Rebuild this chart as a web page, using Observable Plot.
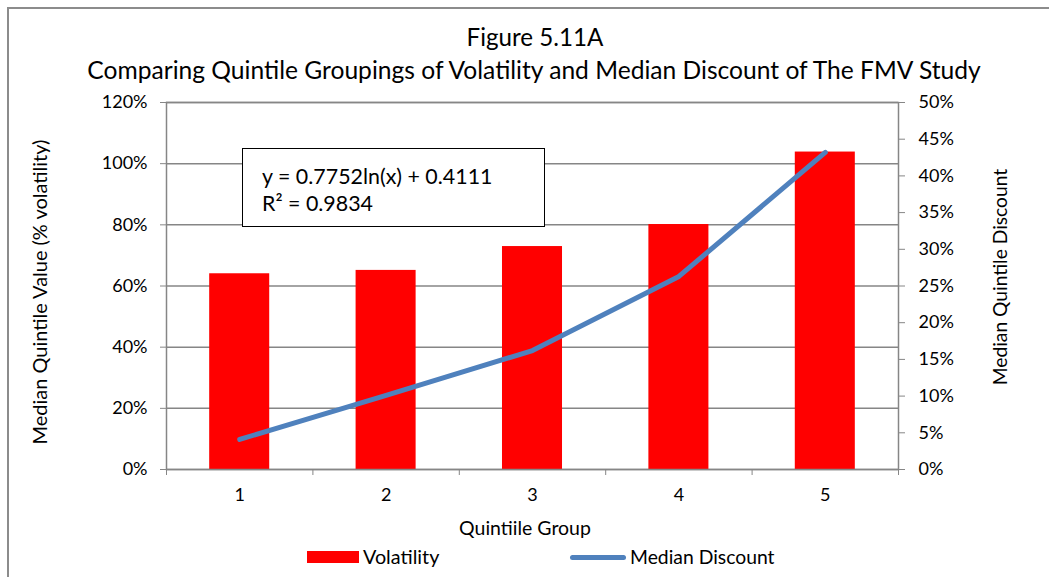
<!DOCTYPE html>
<html><head><meta charset="utf-8">
<script src="https://cdn.jsdelivr.net/npm/d3@7"></script>
<script src="https://cdn.jsdelivr.net/npm/@observablehq/plot@0.6"></script>
<style>
body{margin:0;background:#fff;font-family:Lato, sans-serif;}
#wrap{position:relative;width:1049px;height:577px;overflow:hidden;background:#fff;}
#border{position:absolute;left:7px;top:7px;width:1100px;height:700px;border:2px solid #8c8c8c;box-sizing:border-box;}
.t{position:absolute;white-space:nowrap;color:#000;line-height:1;font-family:Lato, sans-serif;}
#eq{position:absolute;left:242px;top:148px;width:303px;height:79px;border:1.5px solid #000;background:#fff;box-sizing:border-box;}
</style></head><body>
<div id="wrap"><div id="border"></div><div id="chart" style="position:absolute;left:0;top:0"></div></div>
<script>
// ---- data ----
const groups = [1, 2, 3, 4, 5];
const volatility = [64.0, 65.1, 72.9, 80.1, 103.8];        // % (left axis)
const medianDiscount = [4.1, 10.1, 16.2, 26.3, 43.2];      // % (right axis)
const leftTicks = [0, 20, 40, 60, 80, 100, 120];
const rightTicks = [0, 5, 10, 15, 20, 25, 30, 35, 40, 45, 50];
const titleText = "Figure 5.11A";
const subtitleText = "Comparing Quintile Groupings of Volatility and Median Discount of The FMV Study";
const xLabel = "Quintiile Group";
const yLeftLabel = "Median Quintile Value (% volatility)";
const yRightLabel = "Median Quintile Discount";
const seriesNames = ["Volatility", "Median Discount"];
const eqLines = ["y = 0.7752ln(x) + 0.4111", "R\u00B2 = 0.9834"];

const ratio = 120 / 50; // right axis -> left axis units
const data = groups.map((g, i) => ({q: g, vol: volatility[i], disc: medianDiscount[i]}));
const boundaries = [0.5, 1.5, 2.5, 3.5, 4.5, 5.5];
const half = 0.205;
const grey = "#868686";

const chart = Plot.plot({
  width: 1049, height: 577,
  marginLeft: 166, marginRight: 151, marginTop: 102, marginBottom: 108,
  style: {fontFamily: "Lato, sans-serif", fontSize: "18px", color: "#000", background: "transparent"},
  x: {type: "linear", domain: [0.5, 5.5]},
  y: {domain: [0, 120]},
  marks: [
    Plot.gridY(leftTicks, {stroke: grey, strokeOpacity: 1, strokeWidth: 1.5}),
    Plot.rectY(data, {x1: d => d.q - half, x2: d => d.q + half, y: "vol", fill: "#FF0000"}),
    Plot.line(data, {x: "q", y: d => d.disc * ratio, stroke: "#4F81BD", strokeWidth: 5, strokeLinecap: "round", strokeLinejoin: "round"}),
    Plot.frame({stroke: grey, strokeWidth: 1.5}),
    Plot.axisY({anchor: "left", ticks: leftTicks, tickFormat: d => d + "%", tickSize: 6, tickPadding: 13, label: null, stroke: grey, fill: "#000"}),
    Plot.axisY({anchor: "right", ticks: rightTicks.map(t => t * ratio), tickFormat: v => Math.round(v / ratio) + "%", tickSize: 6, tickPadding: 14, label: null, stroke: grey, fill: "#000", textAnchor: "start"}),
    Plot.axisX({ticks: boundaries, tickFormat: () => "", tickSize: 6, label: null, stroke: grey}),
    Plot.axisX({ticks: groups, tickFormat: d => String(d), tickSize: 0, tickPadding: 19, label: null, fill: "#000"})
  ]
});
document.getElementById("chart").appendChild(chart);

const wrap = document.getElementById("wrap");
function label(text, opts) {
  const el = document.createElement("div");
  el.className = "t";
  el.textContent = text;
  el.style.fontSize = opts.size + "px";
  wrap.appendChild(el);
  if (opts.width) {
    const w = el.offsetWidth;
    el.style.fontSize = (opts.size * opts.width / w) + "px";
  }
  if (opts.cx !== undefined) {
    el.style.left = opts.cx + "px";
    el.style.top = opts.cy + "px";
    el.style.transform = "translate(-50%,-50%)" + (opts.rotate ? " rotate(-90deg)" : "");
  } else {
    el.style.left = opts.left + "px";
    el.style.top = opts.cy + "px";
    el.style.transform = "translate(0,-50%)";
  }
  return el;
}
label(titleText, {size: 24, width: 137, cx: 535, cy: 37});
label(subtitleText, {size: 24, width: 894, cx: 534, cy: 70});
label(xLabel, {size: 18, width: 132, cx: 525, cy: 528});
label(yLeftLabel, {size: 18, width: 305, cx: 40, cy: 292, rotate: true});
label(yRightLabel, {size: 18, width: 217, cx: 1000, cy: 277, rotate: true});

// equation box
const eq = document.createElement("div");
eq.id = "eq";
wrap.appendChild(eq);
const eq1 = label(eqLines[0], {size: 19, width: 231, left: 262, cy: 177});
const eq2 = label(eqLines[1], {size: 19, left: 262, cy: 204});
eq2.style.fontSize = eq1.style.fontSize;

// legend
const sw = document.createElement("div");
Object.assign(sw.style, {position: "absolute", left: "307px", top: "551px", width: "52px", height: "12px", background: "#FF0000"});
wrap.appendChild(sw);
const ln = document.createElement("div");
Object.assign(ln.style, {position: "absolute", left: "570px", top: "555px", width: "56px", height: "5px", borderRadius: "3px", background: "#4F81BD"});
wrap.appendChild(ln);
label(seriesNames[0], {size: 18, width: 77, left: 363, cy: 557});
label(seriesNames[1], {size: 18, width: 145, left: 630, cy: 557});
</script>
</body></html>
